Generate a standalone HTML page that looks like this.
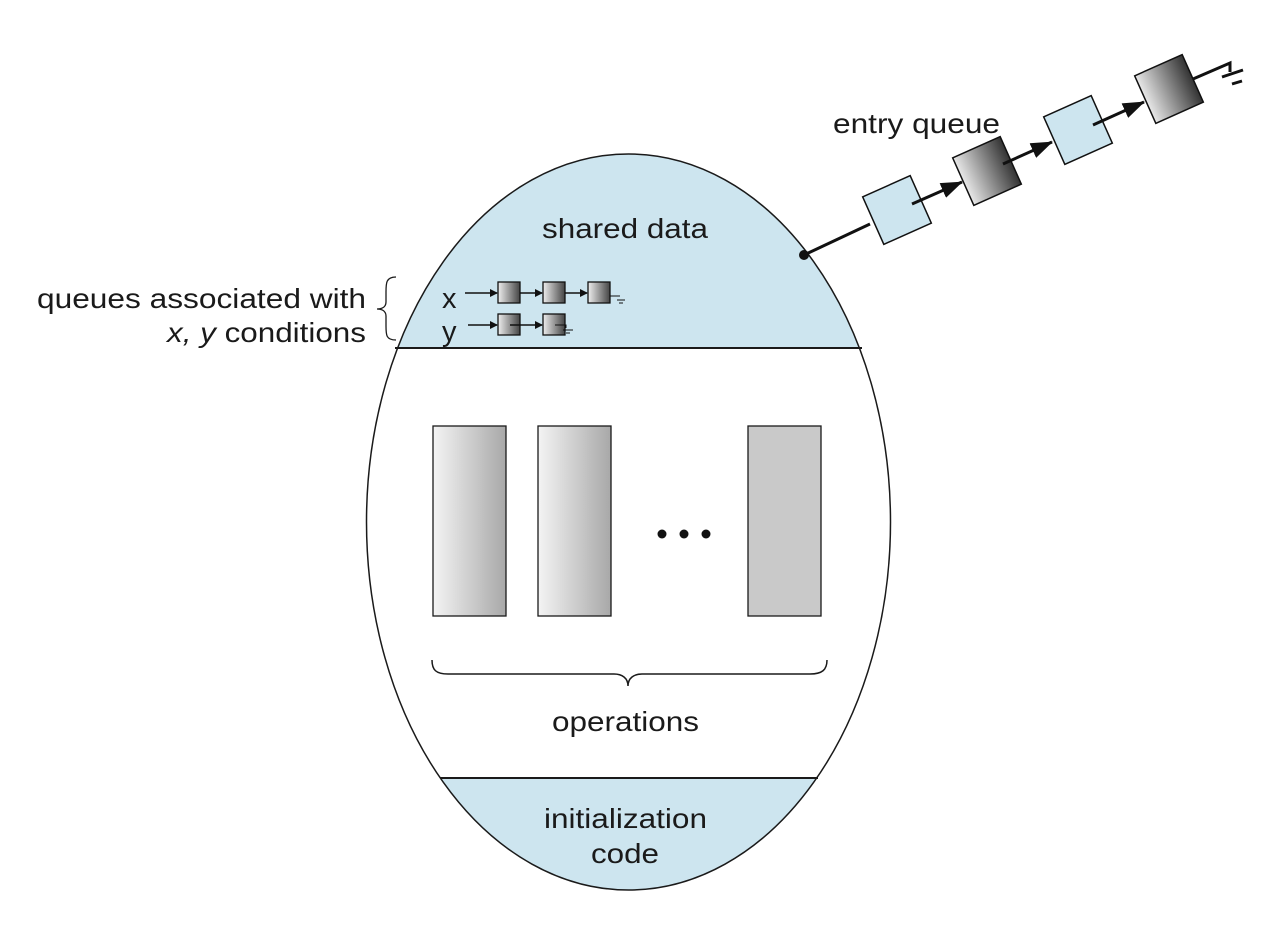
<!DOCTYPE html>
<html><head><meta charset="utf-8"><style>
html,body{margin:0;padding:0;background:#fff;}
svg{display:block;}
text{font-family:"Liberation Sans",Arial,sans-serif;fill:#1a1a1a;}
</style></head><body>
<svg width="1288" height="930" viewBox="0 0 1288 930" xmlns="http://www.w3.org/2000/svg">
<defs>
<clipPath id="eg"><ellipse cx="628.5" cy="522" rx="262" ry="368"/></clipPath>
<linearGradient id="g1" x1="0" x2="1" y1="0" y2="0"><stop offset="0" stop-color="#f4f4f4"/><stop offset="1" stop-color="#a8a8a8"/></linearGradient>
<linearGradient id="g2" x1="0" x2="1" y1="0" y2="0"><stop offset="0" stop-color="#e8e8e8"/><stop offset="1" stop-color="#333"/></linearGradient>
<linearGradient id="g3" x1="0" x2="1" y1="0" y2="0"><stop offset="0" stop-color="#eee"/><stop offset="1" stop-color="#444"/></linearGradient>
<marker id="ar" markerWidth="8" markerHeight="8" refX="7" refY="4" orient="auto" markerUnits="userSpaceOnUse"><path d="M0,0 L8,4 L0,8z" fill="#111"/></marker>
<marker id="ar2" markerWidth="22" markerHeight="16" refX="21" refY="8" orient="auto" markerUnits="userSpaceOnUse"><path d="M0,0 L22,8 L0,16z" fill="#111"/></marker>
</defs>
<g clip-path="url(#eg)">
<rect x="300" y="100" width="700" height="248" fill="#cde5ef"/>
<rect x="300" y="778" width="700" height="150" fill="#cde5ef"/>
</g>
<ellipse cx="628.5" cy="522" rx="262" ry="368" fill="none" stroke="#1a1a1a" stroke-width="1.5"/>
<line x1="395" y1="348" x2="862" y2="348" stroke="#1a1a1a" stroke-width="2"/>
<line x1="440" y1="778" x2="818" y2="778" stroke="#1a1a1a" stroke-width="2"/>

<text x="542" y="238" font-size="28" textLength="166" lengthAdjust="spacingAndGlyphs">shared data</text>
<text x="552" y="731" font-size="28" textLength="147" lengthAdjust="spacingAndGlyphs">operations</text>
<text x="544" y="828" font-size="28" textLength="163" lengthAdjust="spacingAndGlyphs">initialization</text>
<text x="591" y="863" font-size="28" textLength="68" lengthAdjust="spacingAndGlyphs">code</text>
<text x="833" y="133" font-size="28" textLength="167" lengthAdjust="spacingAndGlyphs">entry queue</text>
<text x="37" y="308" font-size="28" textLength="329" lengthAdjust="spacingAndGlyphs">queues associated with</text>
<text x="167" y="342" font-size="28" textLength="199" lengthAdjust="spacingAndGlyphs"><tspan font-style="italic">x, y</tspan> conditions</text>
<path d="M396,277 C386,277 386,283 386,292 L386,302 C386,307 382,309 377,309 C382,309 386,311 386,316 L386,326 C386,335 386,340 396,340" fill="none" stroke="#1a1a1a" stroke-width="1.3"/>

<rect x="433" y="426" width="73" height="190" fill="url(#g1)" stroke="#1a1a1a" stroke-width="1.3"/>
<rect x="538" y="426" width="73" height="190" fill="url(#g1)" stroke="#1a1a1a" stroke-width="1.3"/>
<rect x="748" y="426" width="73" height="190" fill="#c9c9c9" stroke="#1a1a1a" stroke-width="1.3"/>
<circle cx="662" cy="534" r="4.5" fill="#111"/><circle cx="684" cy="534" r="4.5" fill="#111"/><circle cx="706" cy="534" r="4.5" fill="#111"/>
<path d="M432,660 C432,670 436,674 448,674 L614,674 C622,674 628,678 628,686 C628,678 634,674 642,674 L810,674 C822,674 827,670 827,660" fill="none" stroke="#1a1a1a" stroke-width="1.5"/>

<text x="442" y="308" font-size="29">x</text>
<line x1="465" y1="293" x2="497" y2="293" stroke="#111" stroke-width="1.5" marker-end="url(#ar)"/>
<rect x="498" y="282" width="22" height="21" fill="url(#g3)" stroke="#111" stroke-width="1.3"/>
<line x1="520" y1="293" x2="542" y2="293" stroke="#111" stroke-width="1.5" marker-end="url(#ar)"/>
<rect x="543" y="282" width="22" height="21" fill="url(#g3)" stroke="#111" stroke-width="1.3"/>
<line x1="565" y1="293" x2="587" y2="293" stroke="#111" stroke-width="1.5" marker-end="url(#ar)"/>
<rect x="588" y="282" width="22" height="21" fill="url(#g3)" stroke="#111" stroke-width="1.3"/>
<path d="M610,296 H620 M617,300 H625 M619,303 H623" stroke="#111" stroke-width="1"/>
<text x="442" y="341" font-size="29">y</text>
<line x1="468" y1="325" x2="497" y2="325" stroke="#111" stroke-width="1.5" marker-end="url(#ar)"/>
<rect x="498" y="314" width="22" height="21" fill="url(#g3)" stroke="#111" stroke-width="1.3"/>
<line x1="510" y1="325" x2="542" y2="325" stroke="#111" stroke-width="1.5" marker-end="url(#ar)"/>
<rect x="543" y="314" width="22" height="21" fill="url(#g3)" stroke="#111" stroke-width="1.3"/>
<path d="M555,325 H566 L566,328 M563,330 H573 M566,333 H570" stroke="#111" stroke-width="1" fill="none"/>

<line x1="804" y1="255" x2="870" y2="224" stroke="#111" stroke-width="3"/>
<circle cx="804" cy="255" r="5" fill="#111"/>
<g transform="translate(897,210) rotate(-24)"><rect x="-26" y="-26" width="52" height="52" fill="#cde5ef" stroke="#111" stroke-width="1.5"/></g>
<line x1="912" y1="204" x2="962" y2="182" stroke="#111" stroke-width="3" marker-end="url(#ar2)"/>
<g transform="translate(987,171) rotate(-24)"><rect x="-26" y="-26" width="52" height="52" fill="url(#g2)" stroke="#111" stroke-width="1.5"/></g>
<line x1="1003" y1="164" x2="1052" y2="142" stroke="#111" stroke-width="3" marker-end="url(#ar2)"/>
<g transform="translate(1078,130) rotate(-24)"><rect x="-26" y="-26" width="52" height="52" fill="#cde5ef" stroke="#111" stroke-width="1.5"/></g>
<line x1="1093" y1="125" x2="1144" y2="102" stroke="#111" stroke-width="3" marker-end="url(#ar2)"/>
<g transform="translate(1169,89) rotate(-24)"><rect x="-26" y="-26" width="52" height="52" fill="url(#g2)" stroke="#111" stroke-width="1.5"/></g>
<path d="M1193,79 L1230,63 L1230,72 M1222,77 L1243,70 M1232,84 L1242,81" stroke="#111" stroke-width="3" fill="none"/>
</svg>
</body></html>
